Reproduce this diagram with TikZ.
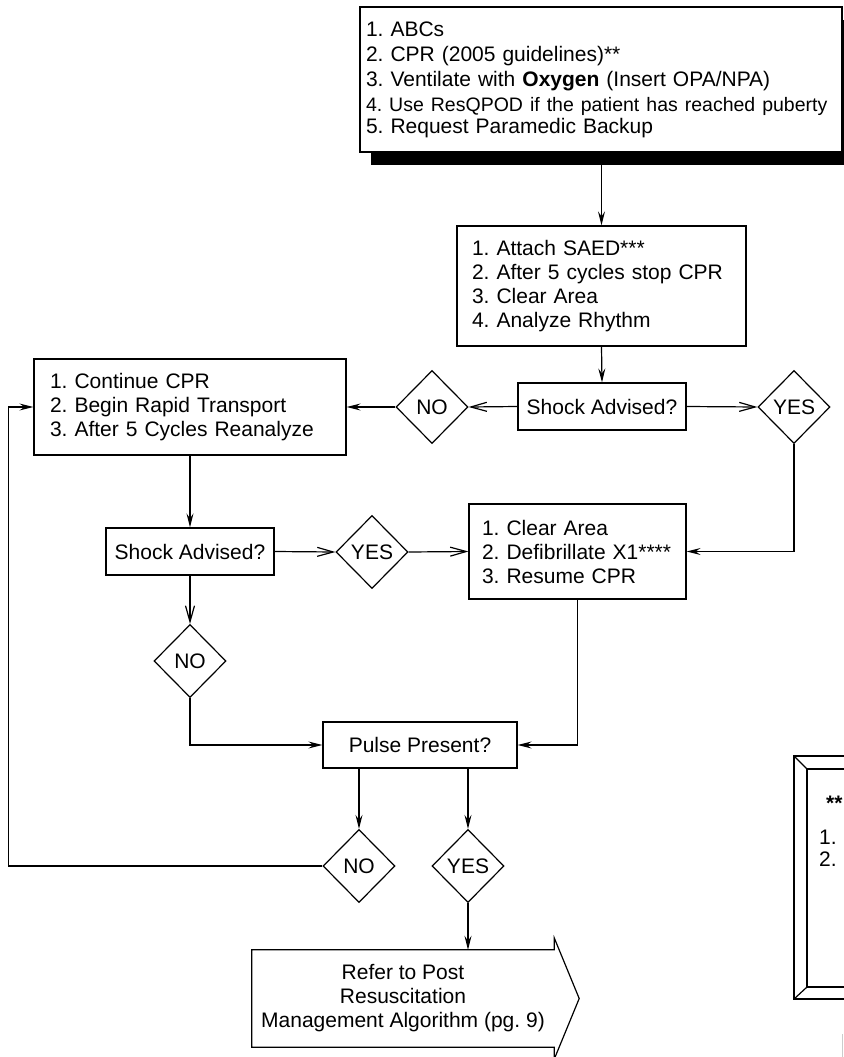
\documentclass[tikz,border=0pt]{standalone}
\usepackage{fontspec}
\setmainfont{Liberation Sans}
\usetikzlibrary{shapes.geometric,arrows.meta,calc}
\frenchspacing
\begin{document}
\begin{tikzpicture}[x=1pt,y=-1pt,
  every node/.style={font=\fontsize{21}{24}\selectfont},
  box/.style={draw,line width=1.2pt,fill=white,inner ysep=0pt,align=left},
  cbox/.style={draw,line width=1.2pt,fill=white,inner sep=0pt,align=center},
  dia/.style={draw,diamond,line width=1.2pt,inner sep=0pt,minimum width=72pt,minimum height=73pt,fill=white},
  conn/.style={line width=1.2pt},
  farr/.style={conn,-{Stealth[length=14pt,width=7pt,inset=5pt]}},
  oarr/.style={conn,-{Straight Barb[length=16pt,width=9pt]}},
]
\useasboundingbox (0,0) rectangle (843,1057);

% top box with shadow
\node[fill=black,minimum width=482pt,minimum height=145pt,inner sep=0pt] (shadow) at (612,92.5) {};
\node[box,text width=470pt,inner xsep=6pt,minimum height=145pt,font=\fontsize{21}{25}\selectfont] (top) at (601,79.5)
  {1. ABCs\\2. CPR (2005 guidelines)**\\3. Ventilate with \textbf{Oxygen} (Insert OPA/NPA)\\{\fontsize{19.5}{25}\selectfont 4. Use ResQPOD if the patient has reached puberty}\\[-3pt]5. Request Paramedic Backup};

\node[box,text width=259pt,inner xsep=15pt,minimum height=120pt] (attach) at (601.5,286)
  {1. Attach SAED***\\2. After 5 cycles stop CPR\\3. Clear Area\\4. Analyze Rhythm};

\node[cbox,minimum width=168pt,minimum height=47pt] (shock1) at (602,406.5) {Shock Advised?};
\node[dia] (no1) at (432,407) {NO};
\node[dia] (yes1) at (794,407) {YES};

\node[box,text width=280pt,inner xsep=16pt,minimum height=96pt] (cont) at (190,407)
  {1. Continue CPR\\2. Begin Rapid Transport\\3. After 5 Cycles Reanalyze};

\node[cbox,minimum width=168pt,minimum height=47pt] (shock2) at (190,551.5) {Shock Advised?};
\node[dia] (yes2) at (372,552) {YES};
\node[box,text width=191pt,inner xsep=13pt,minimum height=95pt] (clear) at (577.5,551.5)
  {1. Clear Area\\2. Defibrillate X1****\\3. Resume CPR};
\node[dia] (no2) at (190,661) {NO};

\node[cbox,minimum width=194pt,minimum height=46pt] (pulse) at (420,745) {Pulse Present?};
\node[dia] (no3) at (359,866) {NO};
\node[dia] (yes3) at (468,866) {YES};

\node[inner sep=0pt,minimum width=302pt,minimum height=97pt,align=center] (refer) at (403,998.5)
  {Refer to Post\\Resuscitation\\Management Algorithm (pg. 9)};
\draw[conn] (refer.north west) -- (refer.north east) -- ++(0,-12) -- ($(refer.east)+(25,0)$)
  -- ($(refer.south east)+(0,12)$) -- (refer.south east) -- (refer.south west) -- cycle;

% connectors
\draw[farr] (shadow.south -| attach.north) -- (attach.north);
\draw[farr] (attach.south) -- (shock1.north);
\draw[oarr] (shock1.west) -- (no1.east);
\draw[farr] (no1.west) -- (cont.east);
\draw[oarr] (shock1.east) -- (yes1.west);
\draw[farr] (yes1.south) |- (clear.east);
\draw[farr] (cont.south) -- (shock2.north);
\draw[oarr] (shock2.east) -- (yes2.west);
\draw[oarr] (yes2.east) -- (clear.west);
\draw[oarr] (shock2.south) -- (no2.north);
\draw[farr] (no2.south) |- (pulse.west);
\draw[farr] (clear.south) |- (pulse.east);
\draw[farr] (pulse.south -| no3.north) -- (no3.north);
\draw[farr] (pulse.south -| yes3.north) -- (yes3.north);
\coordinate (loopx) at (8.5,866);
\draw[farr] (no3.west) -- (no3.west -| loopx) |- (cont.west);
\draw[farr] (yes3.south) -- (yes3.south |- refer.north);

% bottom-right framed note (cut off)
\draw[conn] (794,756) rectangle (880,999);
\draw[conn] (807,769) rectangle (880,987);
\draw[conn] (794,756) -- (807,769);
\draw[conn] (794,999) -- (807,987);
\node[anchor=west,inner sep=0pt,font=\bfseries\fontsize{21}{21}\selectfont] (fn0) at (826,803) {**};
\node[anchor=west,inner sep=0pt,font=\fontsize{21}{21}\selectfont] (fn1) at (819,837) {1.};
\node[anchor=west,inner sep=0pt,font=\fontsize{21}{21}\selectfont] (fn2) at (819,859) {2.};
\draw[gray!40,line width=1pt] (842,1034) -- (842,1057);
\end{tikzpicture}
\end{document}
